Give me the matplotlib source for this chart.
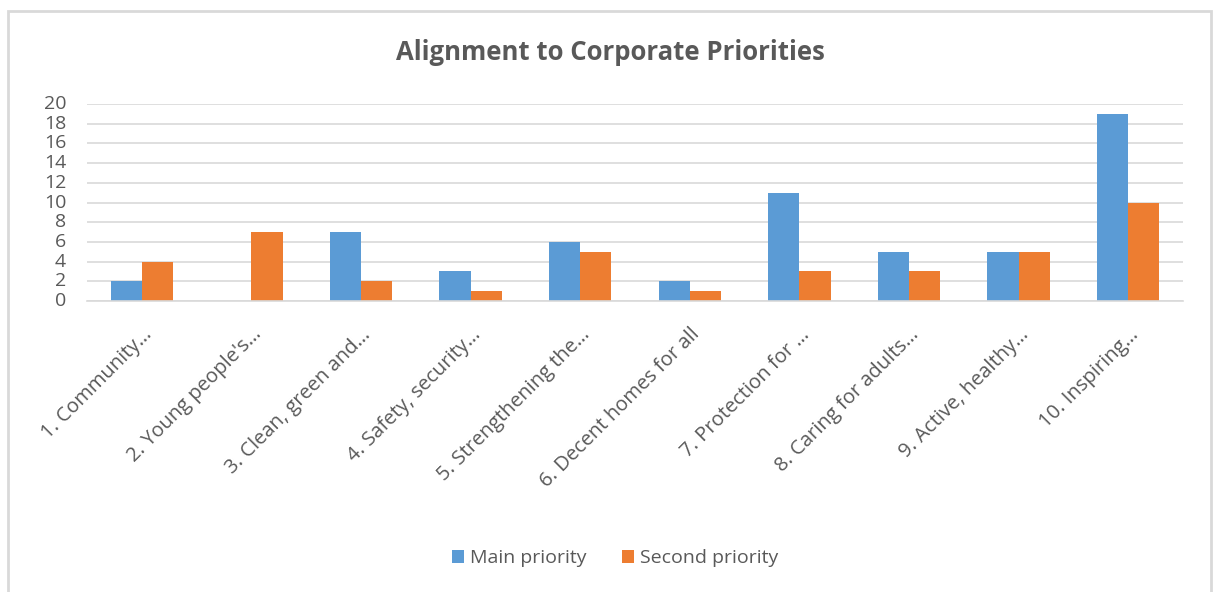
import matplotlib.pyplot as plt
import numpy as np
from matplotlib.patches import Rectangle

categories = ["1. Community…", "2. Young people's…", "3. Clean, green and…",
              "4. Safety, security…", "5. Strengthening the…", "6. Decent homes for all",
              "7. Protection for …", "8. Caring for adults…", "9. Active, healthy…",
              "10. Inspiring…"]
main_priority = [2, 0, 7, 3, 6, 2, 11, 5, 5, 19]
second_priority = [4, 7, 2, 1, 5, 1, 3, 3, 5, 10]
y_ticks = list(range(0, 21, 2))

blue = "#5b9bd5"
orange = "#ed7d31"
text_grey = "#595959"

plt.rcParams['font.family'] = ['Open Sans', 'DejaVu Sans']

fig = plt.figure(figsize=(12.13, 5.92), dpi=100)
# light frame round the whole chart area
fig.patches.append(Rectangle((8 / 1213, -0.1), 1203 / 1213, 1.1 - 11 / 592,
                             transform=fig.transFigure, fill=False,
                             edgecolor="#d9d9d9", linewidth=2))

ax = fig.add_axes([87 / 1213, 1 - 301 / 592, (1183 - 87) / 1213, (301 - 104) / 592])

x = np.arange(len(categories))
w = 0.285
ax.bar(x - w / 2, main_priority, w, color=blue, label="Main priority")
ax.bar(x + w / 2, second_priority, w, color=orange, label="Second priority")

ax.set_xlim(-0.5, len(categories) - 0.5)
ax.set_ylim(0, 20)
ax.set_yticks(y_ticks)
ax.yaxis.grid(True, color="#d9d9d9", linewidth=1.2)
ax.set_axisbelow(True)
for s in ["top", "right", "left"]:
    ax.spines[s].set_visible(False)
ax.spines["bottom"].set_color("#d9d9d9")
ax.spines["bottom"].set_linewidth(1.2)
ax.tick_params(axis="both", length=0, colors=text_grey, labelsize=14)
ax.tick_params(axis="y", pad=15)
ax.set_xticks(x)
ax.set_xticklabels(categories, rotation=45, ha="right", rotation_mode="anchor", fontsize=14.5)
ax.tick_params(axis="x", pad=17)
for lbl in ax.get_yticklabels():
    lbl.set_verticalalignment("center")

fig.text(0.503, 1 - 53 / 592, "Alignment to Corporate Priorities", ha="center", va="center",
         fontsize=18.5, fontweight="bold", color=text_grey)

fig.legend(loc="center", bbox_to_anchor=(0.507, 1 - 558 / 592), ncol=2, frameon=False,
           fontsize=14, labelcolor=text_grey, handlelength=0.65, handleheight=0.65,
           handletextpad=0.3, columnspacing=1.8)

fig.savefig("out.png", dpi=100)
